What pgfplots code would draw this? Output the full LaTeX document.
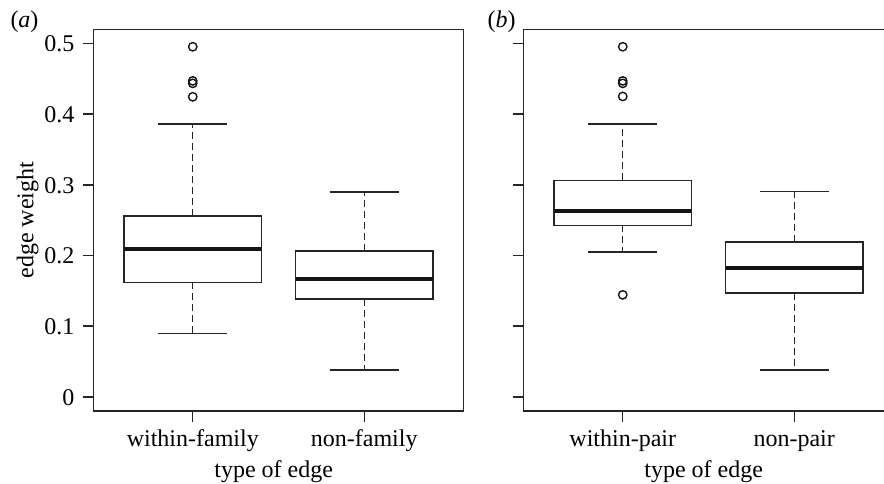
\documentclass[border=0pt]{standalone}
\usepackage{pgfplots}
\pgfplotsset{compat=1.18}
\usepgfplotslibrary{statistics}
\usepackage{fontspec}
\setmainfont{Liberation Serif}
\definecolor{ln}{gray}{0.15}
\begin{document}
\fontsize{24}{28}\selectfont
\begin{tikzpicture}
\pgfplotsset{
  panel/.style={
    scale only axis, width=370.4pt, height=381.7pt,
    xmin=0.42, xmax=2.58, ymin=-0.02, ymax=0.52,
    axis line style={line width=1.4pt, ln},
    tick style={line width=1.4pt, ln},
    tick align=outside, tick pos=left, major tick length=10.7pt,
    xtick={1,2}, ytick={0,0.1,0.2,0.3,0.4,0.5},
    /pgf/number format/fixed, /pgf/number format/precision=1,
    /pgf/number format/assume math mode=true,
    ticklabel style={font=\fontsize{24}{28}\selectfont},
    label style={font=\fontsize{24}{28}\selectfont},
    xticklabel style={anchor=base, yshift=-25pt},
    yticklabel style={anchor=base east, yshift=-8.4pt},
    xlabel={type of edge},
    xlabel style={at={(axis description cs:0.487,0)}, anchor=base, yshift=-67pt},
    boxplot/draw direction=y,
    boxplot/box extend=0.8,
    boxplot/whisker extend=0.4,
    boxplot/every box/.style={line width=1.4pt, draw=ln, fill=white},
    boxplot/every median/.style={line width=4pt, black!92},
    boxplot/every whisker/.style={line width=1.4pt, ln},
    boxplot/draw/lower whisker/.code={%
      \draw[/pgfplots/boxplot/every whisker, dash pattern=on 7pt off 4pt]
        (boxplot box cs:\pgfplotsboxplotvalue{lower quartile},0.5) --
        (boxplot box cs:\pgfplotsboxplotvalue{lower whisker},0.5);
      \draw[/pgfplots/boxplot/every whisker]
        (boxplot whisker cs:\pgfplotsboxplotvalue{lower whisker},0) --
        (boxplot whisker cs:\pgfplotsboxplotvalue{lower whisker},1);
    },
    boxplot/draw/upper whisker/.code={%
      \draw[/pgfplots/boxplot/every whisker, dash pattern=on 7pt off 4pt]
        (boxplot box cs:\pgfplotsboxplotvalue{upper quartile},0.5) --
        (boxplot box cs:\pgfplotsboxplotvalue{upper whisker},0.5);
      \draw[/pgfplots/boxplot/every whisker]
        (boxplot whisker cs:\pgfplotsboxplotvalue{upper whisker},0) --
        (boxplot whisker cs:\pgfplotsboxplotvalue{upper whisker},1);
    },
  },
  bx/.style={ln, mark=o, mark size=4.2pt, mark options={line width=1.4pt, black!92}},
}
\begin{axis}[panel,
  xticklabels={within-family, non-family},
  ylabel={edge weight},
  ylabel style={at={(axis description cs:-0.1615,0.5)}, anchor=base},
]
\addplot[bx, boxplot prepared={draw position=1, median=0.2086, upper quartile=0.2557,
  lower quartile=0.1619, upper whisker=0.3859, lower whisker=0.0897}]
  coordinates {(1,0.4953) (1,0.4470) (1,0.4435) (1,0.4245)};
\addplot[bx, boxplot prepared={draw position=2, median=0.1670, upper quartile=0.2066,
  lower quartile=0.1382, upper whisker=0.2901, lower whisker=0.0382}]
  coordinates {};
\end{axis}
\node[anchor=base] at (-68.8pt,383pt) {(\textit{a})};
\begin{axis}[panel, at={(430pt,0pt)},
  xticklabels={within-pair, non-pair},
  yticklabels={},
]
\addplot[bx, boxplot prepared={draw position=1, median=0.2628, upper quartile=0.3062,
  lower quartile=0.2425, upper whisker=0.3859, lower whisker=0.2052}]
  coordinates {(1,0.4953) (1,0.4470) (1,0.4435) (1,0.4250) (1,0.1443)};
\addplot[bx, boxplot prepared={draw position=2, median=0.1821, upper quartile=0.2193,
  lower quartile=0.1467, upper whisker=0.2906, lower whisker=0.0382}]
  coordinates {};
\end{axis}
\node[anchor=base] at (408.4pt,383pt) {(\textit{b})};
\pgfresetboundingbox
\useasboundingbox (-93.3pt,-73pt) rectangle (790.7pt,411pt);
\end{tikzpicture}
\end{document}
